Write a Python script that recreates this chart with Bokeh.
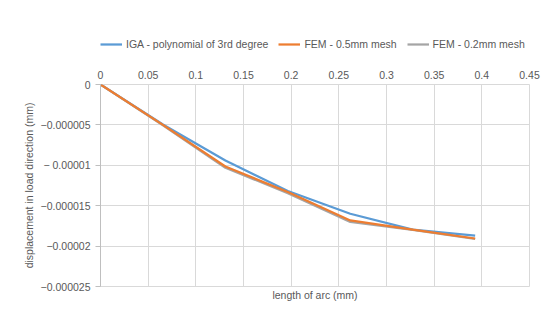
from bokeh.plotting import figure
from bokeh.models import (Range1d, FixedTicker, LinearAxis, Legend, LegendItem)
from bokeh.layouts import column
from bokeh.embed import file_html
from bokeh.resources import INLINE

# ---- data ----
arc_length = [0, 0.0655, 0.131, 0.1965, 0.262, 0.3275, 0.393]
iga_poly3 = [0, -4.95e-6, -9.4e-6, -1.318e-5, -1.60e-5, -1.795e-5, -1.869e-5]
fem_05mm = [0, -5.0e-6, -1.015e-5, -1.33e-5, -1.683e-5, -1.795e-5, -1.906e-5]
fem_02mm = [0, -5.05e-6, -1.03e-5, -1.345e-5, -1.70e-5, -1.80e-5, -1.912e-5]

series_names = ["IGA - polynomial of 3rd degree", "FEM - 0.5mm mesh", "FEM - 0.2mm mesh"]
series_colors = ["#5B9BD5", "#ED7D31", "#A5A5A5"]
series_values = [iga_poly3, fem_05mm, fem_02mm]

x_ticks = [0, 0.05, 0.1, 0.15, 0.2, 0.25, 0.3, 0.35, 0.4, 0.45]
x_tick_labels = ["0", "0.05", "0.1", "0.15", "0.2", "0.25", "0.3", "0.35", "0.4", "0.45"]
y_ticks = [0, -0.000005, -0.00001, -0.000015, -0.00002, -0.000025]
y_tick_labels = ["0", "\u22120.000005", "\u2212 0.00001", "\u22120.000015", "\u22120.00002", "\u22120.000025"]

x_title = "length of arc (mm)"
y_title = "displacement in load direction (mm)"

FONT = "Liberation Sans"
FS = "10.5px"
TXT = "#595959"
GRID = "#D9D9D9"

# ---- main chart ----
p = figure(width=548, height=265, output_backend="svg", toolbar_location=None,
           x_range=Range1d(0, 0.45), y_range=Range1d(-0.000025, 0),
           x_axis_location="above", min_border_left=100, min_border_right=19,
           min_border_top=24, min_border_bottom=39)
p.background_fill_color = "white"
p.border_fill_color = "white"
p.outline_line_color = GRID

xa = p.xaxis[0]
xa.ticker = FixedTicker(ticks=x_ticks)
xa.major_label_overrides = {t: l for t, l in zip(x_ticks, x_tick_labels)}
xa.axis_line_color = None
xa.major_tick_line_color = None
xa.minor_tick_line_color = None
xa.major_label_standoff = 0
xa.major_label_text_font = FONT
xa.major_label_text_font_size = FS
xa.major_label_text_color = TXT

ya = p.yaxis[0]
ya.ticker = FixedTicker(ticks=y_ticks)
ya.major_label_overrides = {t: l for t, l in zip(y_ticks, y_tick_labels)}
ya.axis_line_color = "#BFBFBF"
ya.major_tick_line_color = "#BFBFBF"
ya.major_tick_out = 5
ya.major_tick_in = 0
ya.minor_tick_line_color = None
ya.major_label_standoff = 5
ya.major_label_text_font = FONT
ya.major_label_text_font_size = FS
ya.major_label_text_color = TXT
ya.axis_label = y_title
ya.axis_label_text_font = FONT
ya.axis_label_text_font_size = FS
ya.axis_label_text_font_style = "normal"
ya.axis_label_text_color = TXT
ya.axis_label_standoff = 3

xb = LinearAxis(ticker=FixedTicker(ticks=[]), axis_label=x_title)
xb.axis_line_color = None
xb.major_tick_line_color = None
xb.minor_tick_line_color = None
xb.axis_label_text_font = FONT
xb.axis_label_text_font_size = FS
xb.axis_label_text_font_style = "normal"
xb.axis_label_text_color = TXT
xb.axis_label_standoff = 2
p.add_layout(xb, "below")

p.xgrid.ticker = FixedTicker(ticks=x_ticks)
p.ygrid.ticker = FixedTicker(ticks=y_ticks)
p.xgrid.grid_line_color = GRID
p.ygrid.grid_line_color = GRID

for ys, c in [(iga_poly3, series_colors[0]), (fem_02mm, series_colors[2]), (fem_05mm, series_colors[1])]:
    p.line(arc_length, ys, line_color=c, line_width=2.25)

# ---- legend strip on top (its lines lie outside its visible range) ----
lf = figure(width=548, height=60, output_backend="svg", toolbar_location=None,
            x_range=Range1d(0, 1), y_range=Range1d(1, 2), min_border=0)
lf.axis.visible = False
lf.grid.visible = False
lf.outline_line_color = None
lf.background_fill_color = "white"
lf.border_fill_color = "white"
items = []
for name, c, ys in zip(series_names, series_colors, series_values):
    r = lf.line(arc_length, ys, line_color=c, line_width=2.25)
    items.append(LegendItem(label=name, renderers=[r]))
legend = Legend(items=items, orientation="horizontal", location=(0, 10),
                border_line_color=None, background_fill_alpha=0,
                label_text_font=FONT, label_text_font_size=FS, label_text_color=TXT,
                glyph_width=22, glyph_height=12, label_standoff=4, spacing=10,
                padding=0, margin=0)
lf.add_layout(legend, "center")

layout = column(lf, p, spacing=0)
open("out.html", "w").write(file_html(layout, INLINE))
